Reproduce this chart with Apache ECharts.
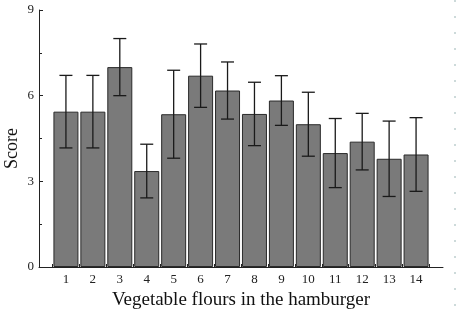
<!DOCTYPE html>
<html>
<head>
<meta charset="utf-8">
<script src="https://cdn.jsdelivr.net/npm/echarts@6/dist/echarts.min.js"></script>
<style>html,body{margin:0;padding:0;background:#fff}#c{width:456px;height:320px}</style>
</head>
<body>
<div id="c"></div>
<script>
var categories = [1, 2, 3, 4, 5, 6, 7, 8, 9, 10, 11, 12, 13, 14];
var means = [5.44, 5.44, 7.0, 3.36, 5.35, 6.70, 6.18, 5.36, 5.83, 5.0, 3.99, 4.39, 3.79, 3.94];
var errors = [1.27, 1.27, 1.0, 0.94, 1.54, 1.11, 1.0, 1.11, 0.87, 1.12, 1.21, 0.99, 1.32, 1.29];
var yTicks = [0, 3, 6, 9];

var barData = categories.map(function (c, i) { return [c, means[i]]; });
var errData = categories.map(function (c, i) { return [c, means[i] - errors[i], means[i] + errors[i]]; });

var serif = 'Liberation Serif';
var chart = echarts.init(document.getElementById('c'), null, {renderer: 'canvas'});
chart.setOption({
  animation: false,
  grid: {left: 39, right: 13, top: 10, bottom: 53, containLabel: false, outerBoundsMode: 'none'},
  xAxis: {
    type: 'value', min: 0, max: 15, interval: 1,
    name: 'Vegetable flours in the hamburger', nameLocation: 'middle', nameGap: 24,
    nameTextStyle: {fontFamily: serif, fontSize: 19, color: '#111'},
    axisLine: {lineStyle: {color: '#222', width: 1}},
    axisTick: {show: false, inside: true},
    minorTick: {show: true, splitNumber: 2, length: 3, lineStyle: {color: '#222', width: 1}},
    minorSplitLine: {show: false},
    splitLine: {show: false},
    axisLabel: {
      fontFamily: serif, fontSize: 13, color: '#222', margin: 6,
      formatter: function (v) { return categories.indexOf(v) >= 0 ? String(v) : ''; }
    }
  },
  yAxis: {
    type: 'value', min: yTicks[0], max: yTicks[yTicks.length - 1], interval: 3,
    name: 'Score', nameLocation: 'middle', nameGap: 18, nameMoveOverlap: false,
    nameTextStyle: {fontFamily: serif, fontSize: 18, color: '#111', padding: [0, 0, 0, -20]},
    axisLine: {show: true, lineStyle: {color: '#222', width: 1}},
    axisTick: {show: true, inside: true, length: 4, lineStyle: {color: '#222'}},
    minorTick: {show: true, splitNumber: 2, length: 3, lineStyle: {color: '#222'}},
    splitLine: {show: false},
    axisLabel: {fontFamily: serif, fontSize: 13, color: '#222', margin: 5}
  },
  series: [
    {
      type: 'bar', data: barData, barWidth: 25,
      itemStyle: {color: '#7a7a7a', borderColor: '#2a2a2a', borderWidth: 1}
    },
    {
      type: 'custom', data: errData, z: 10,
      renderItem: function (params, api) {
        var x = api.value(0);
        var lo = api.coord([x, api.value(1)]);
        var hi = api.coord([x, api.value(2)]);
        var hw = 6.5;
        var st = {stroke: '#1a1a1a', lineWidth: 1.3};
        return {
          type: 'group',
          children: [
            {type: 'line', shape: {x1: hi[0], y1: hi[1], x2: lo[0], y2: lo[1]}, style: st},
            {type: 'line', shape: {x1: hi[0] - hw, y1: hi[1], x2: hi[0] + hw, y2: hi[1]}, style: st},
            {type: 'line', shape: {x1: lo[0] - hw, y1: lo[1], x2: lo[0] + hw, y2: lo[1]}, style: st}
          ]
        };
      }
    }
  ],
  graphic: [
    {type: 'line', shape: {x1: 455, y1: 0, x2: 455, y2: 306}, style: {stroke: '#9bb5b5', lineWidth: 1, lineDash: [2, 14]}}
  ]
});
</script>
</body>
</html>
